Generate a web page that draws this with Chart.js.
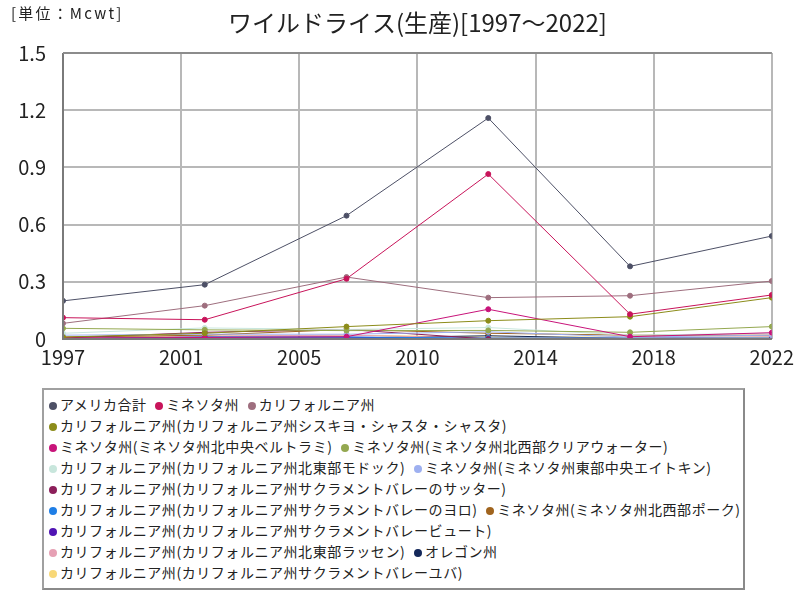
<!DOCTYPE html>
<html>
<head>
<meta charset="utf-8">
<script src="https://cdn.jsdelivr.net/npm/chart.js@4.4.1/dist/chart.umd.min.js"></script>
<style>
  html, body { margin: 0; padding: 0; background: #fff; }
  body { width: 800px; height: 600px; position: relative; overflow: hidden; font-family: "Noto Sans CJK JP", "Noto Sans", sans-serif; }
  #wrap { position: absolute; left: 0; top: 0; width: 800px; height: 380px; }
  #unit { position: absolute; left: 11px; top: 2px; font-size: 15px; letter-spacing: 2.2px; color: #222; }
  #legend { position: absolute; left: 42px; top: 388px; width: 703px; height: 202px; border: 2px solid #8a8a8a; border-top-color: #a0a0a0; border-left-color: #a0a0a0; box-sizing: border-box; padding: 4px 0 0 5px; font-size: 14px; letter-spacing: 0.55px; color: #222; line-height: 21px; overflow: visible; }
  #legendInner { width: 700px; }
  .item { display: inline-block; white-space: nowrap; margin-right: 5px; }
  .dot { display: inline-block; width: 8px; height: 8px; border-radius: 50%; margin-right: 3px; vertical-align: 0px; }
</style>
</head>
<body>
<div id="wrap"><canvas id="c" width="800" height="380"></canvas></div>
<div id="unit">[単位：Mcwt]</div>
<div id="legend"><div id="legendInner"></div></div>
<script>
const titleText = 'ワイルドライス(生産)[1997～2022]';
const years = [1997, 2002, 2007, 2012, 2017, 2022];
const xTickLabels = ['1997', '2001', '2005', '2010', '2014', '2018', '2022'];
const yTickValues = [0, 0.3, 0.6, 0.9, 1.2, 1.5];

const seriesNames = [
  'アメリカ合計',
  'ミネソタ州',
  'カリフォルニア州',
  'カリフォルニア州(カリフォルニア州シスキヨ・シャスタ・シャスタ)',
  'ミネソタ州(ミネソタ州北中央ベルトラミ)',
  'ミネソタ州(ミネソタ州北西部クリアウォーター)',
  'カリフォルニア州(カリフォルニア州北東部モドック)',
  'ミネソタ州(ミネソタ州東部中央エイトキン)',
  'カリフォルニア州(カリフォルニア州サクラメントバレーのサッター)',
  'カリフォルニア州(カリフォルニア州サクラメントバレーのヨロ)',
  'ミネソタ州(ミネソタ州北西部ポーク)',
  'カリフォルニア州(カリフォルニア州サクラメントバレービュート)',
  'カリフォルニア州(カリフォルニア州北東部ラッセン)',
  'オレゴン州',
  'カリフォルニア州(カリフォルニア州サクラメントバレーユバ)'
];

const usTotal    = [0.200, 0.285, 0.647, 1.159, 0.381, 0.540];
const minnesota  = [0.112, 0.101, 0.316, 0.865, 0.130, 0.231];
const california = [0.082, 0.175, 0.325, 0.217, 0.227, 0.304];
const siskiyou   = [0.010, 0.030, 0.065, 0.096, 0.117, 0.217];
const beltrami   = [0.005, 0.008, 0.012, 0.156, 0.012, 0.033];
const clearwater = [0.056, 0.048, 0.044, 0.045, 0.035, 0.065];
const modoc      = [0.030, 0.058, 0.050, 0.060, 0.020, 0.030];
const aitkin     = [0.020, 0.025, 0.025, 0.038, 0.010, 0.020];
const sutter     = [0.005, 0.035, 0.050, 0.000, 0.000, 0.000];
const yolo       = [0.000, 0.010, 0.010, 0.005, 0.005, 0.005];
const polk       = [0.010, 0.020, 0.050, 0.030, 0.020, 0.020];
const butte      = [0.002, 0.010, 0.010, 0.000, 0.000, 0.000];
const lassen     = [0.005, 0.015, 0.020, 0.005, 0.005, 0.012];
const oregon     = [0.003, 0.005, 0.005, 0.017, 0.003, 0.003];
const yuba       = [0.010, 0.015, 0.020, 0.010, 0.010, 0.010];

const seriesValues = [usTotal, minnesota, california, siskiyou, beltrami, clearwater, modoc,
  aitkin, sutter, yolo, polk, butte, lassen, oregon, yuba];

const seriesColors = ['#4d5066', '#c8145a', '#9e6e7e', '#8c8c1a', '#c8147a', '#94a850', '#c8e6dc',
  '#9eb0f0', '#8c1e5a', '#1e7ee6', '#a0641e', '#5014b4', '#e6a0b4', '#14285a', '#f8d878'];

const datasets = seriesNames.map((name, i) => ({
  label: name,
  data: years.map((yr, j) => ({ x: yr, y: seriesValues[i][j] })),
  borderColor: seriesColors[i],
  backgroundColor: seriesColors[i],
  borderWidth: 1,
  pointRadius: 2.5,
  pointHoverRadius: 2.5,
  tension: 0
}));

const framePlugin = {
  id: 'frame',
  afterDraw(chart) {
    const a = chart.chartArea, ctx = chart.ctx;
    ctx.save();
    ctx.strokeStyle = '#7a7a7a';
    ctx.lineWidth = 2;
    ctx.beginPath();
    ctx.moveTo(a.left, a.top); ctx.lineTo(a.left, a.bottom); ctx.lineTo(a.right, a.bottom);
    ctx.stroke();
    ctx.strokeStyle = '#8c8c8c';
    ctx.beginPath();
    ctx.moveTo(a.left, a.top); ctx.lineTo(a.right, a.top);
    ctx.stroke();
    ctx.restore();
  }
};

const tickFont = { family: '"Noto Sans CJK JP", sans-serif', size: 20 };

new Chart(document.getElementById('c'), {
  type: 'line',
  data: { datasets },
  plugins: [framePlugin],
  options: {
    responsive: false,
    animation: false,
    events: [],
    layout: { padding: { left: 0, right: 28, top: 0, bottom: 0 } },
    plugins: {
      legend: { display: false },
      tooltip: { enabled: false },
      title: {
        display: true,
        text: titleText,
        fullSize: false,
        color: '#222',
        font: { family: '"Noto Sans CJK JP", sans-serif', size: 24, weight: 'normal', lineHeight: 1.2 },
        padding: { top: 8, bottom: 16.2 }
      }
    },
    scales: {
      x: {
        type: 'linear',
        min: 1997,
        max: 2022,
        afterBuildTicks(scale) {
          scale.ticks = xTickLabels.map((_, i) => ({ value: 1997 + 25 * i / 6 }));
        },
        afterFit(scale) { scale.height = 41; },
        ticks: {
          autoSkip: false,
          maxRotation: 0,
          color: '#222',
          font: tickFont,
          padding: 6,
          callback(v, i) { return xTickLabels[i]; }
        },
        grid: { color: '#b8b8b8', lineWidth: 2, drawTicks: false },
        border: { display: false }
      },
      y: {
        min: 0,
        max: 1.5,
        afterBuildTicks(scale) {
          scale.ticks = yTickValues.map(v => ({ value: v }));
        },
        afterFit(scale) { scale.width = 63; },
        ticks: {
          color: '#222',
          font: tickFont,
          padding: 17,
          callback(v) { return v === 0 ? '0' : v.toFixed(1); }
        },
        grid: { color: '#b8b8b8', lineWidth: 2, drawTicks: false },
        border: { display: false }
      }
    }
  }
});

const legend = document.getElementById('legendInner');
seriesNames.forEach((name, i) => {
  const s = document.createElement('span');
  s.className = 'item';
  const d = document.createElement('span');
  d.className = 'dot';
  d.style.background = seriesColors[i];
  s.appendChild(d);
  s.appendChild(document.createTextNode(name));
  legend.appendChild(s);
  legend.appendChild(document.createTextNode(' '));
});
</script>
</body>
</html>
